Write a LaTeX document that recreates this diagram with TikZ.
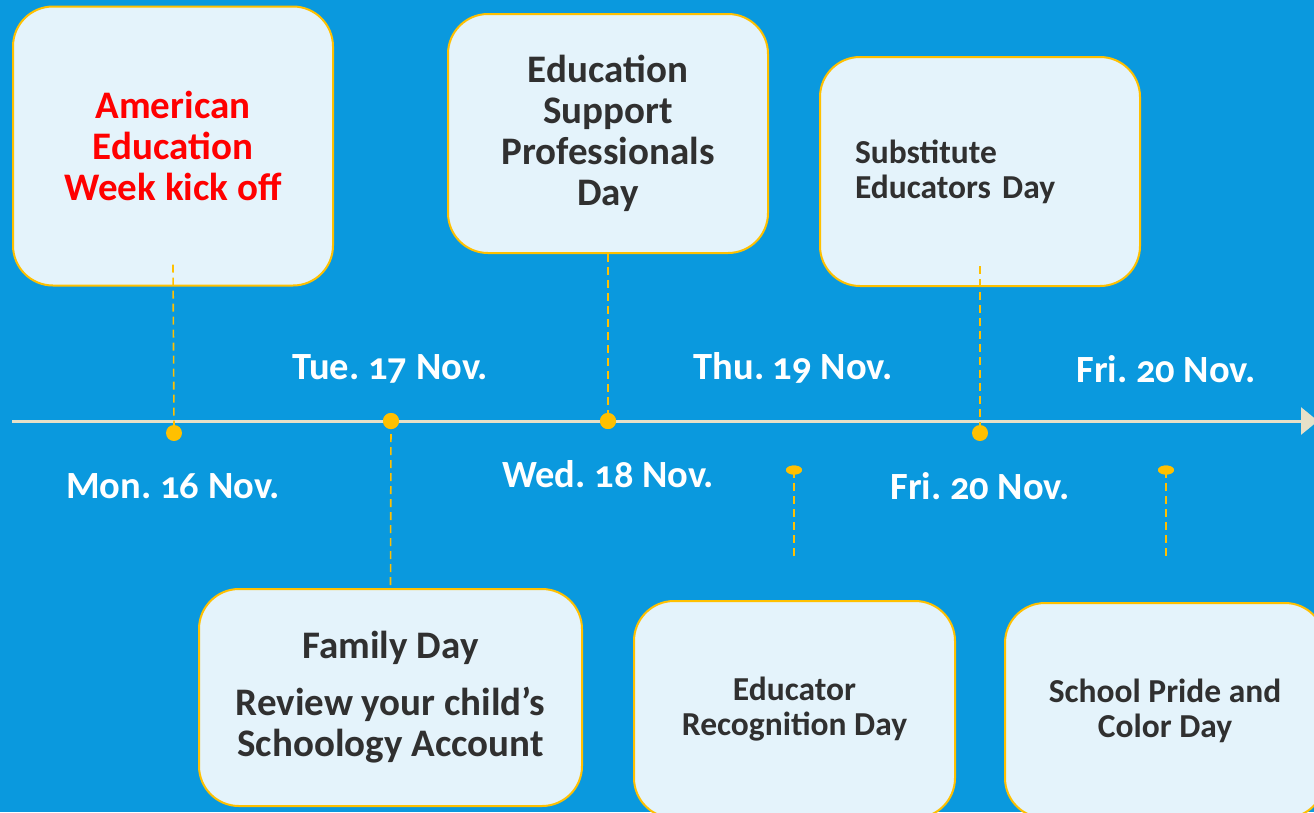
\documentclass[tikz,border=0pt]{standalone}
\usepackage{fontspec}
\setmainfont{Carlito}[Numbers=OldStyle]
\usetikzlibrary{positioning,shapes,arrows.meta}
\definecolor{sky}{RGB}{10,153,222}
\definecolor{paleblue}{RGB}{228,243,251}
\definecolor{gold}{RGB}{255,192,0}
\definecolor{ink}{RGB}{48,48,48}
\definecolor{axis}{RGB}{230,224,200}
\frenchspacing

\begin{document}
\begin{tikzpicture}[x=1pt,y=-1pt]
\tikzstyle{every node}+=[inner sep=0pt]
\tikzstyle{card}=[draw=gold, line width=2pt, fill=paleblue, rounded corners=40pt,
  minimum width=320pt, text=ink, align=center, font=\bfseries\fontsize{39}{41}\selectfont]
\tikzstyle{smallcard}=[card, font=\bfseries\fontsize{33.5}{35}\selectfont]
\tikzstyle{date}=[text=white, font=\bfseries\fontsize{38.5}{41}\selectfont]
\tikzstyle{dot}=[circle, fill=gold, minimum size=16pt]
\tikzstyle{tick}=[ellipse, fill=gold, minimum width=16pt, minimum height=9pt]
\tikzstyle{stem}=[gold, line width=1.6pt, dash pattern=on 8pt off 5pt]
\useasboundingbox (0,0) rectangle (1314,812);
\fill[sky] (0,0) rectangle (1314,812);
\clip (0,0) rectangle (1314,812);
% time axis
\coordinate (start) at (12,421);
\coordinate (stop) at (1318,421);
\draw[axis, line width=3pt, -{Triangle[length=17pt,width=27pt]}] (start) -- (stop);
% event boxes
\node[card, minimum height=279pt, text=red] (kickoff) at (173,146)
  {American\\Education\\Week kick off};
\node[card, minimum height=239pt] (support) at (608,133.5)
  {Education\\Support\\Professionals\\Day};
\node[smallcard, minimum height=229pt, align=left, text width=250pt] (substitute) at (980,171.5)
  {Substitute\\Educators Day};
\node[card, minimum width=383pt, minimum height=217pt] (family) at (390.5,697.5)
  {Family Day\\[16pt]Review your child’s\\Schoology Account};
\node[smallcard, minimum width=321pt, minimum height=217pt] (recognition) at (794.5,709.5)
  {Educator\\Recognition Day};
\node[smallcard, minimum width=320pt, minimum height=215pt] (pride) at (1165,710.5)
  {School Pride and\\Color Day};
% markers on the axis
\node[dot] (mon) at (174,433) {};
\node[dot] (tue) at (391,421) {};
\node[dot] (wed) at (608,421) {};
\node[dot] (fri) at (980,433) {};
\node[tick] (thu) at (794,470) {};
\node[tick] (fri2) at (1166,470) {};
\coordinate (thuend) at (794,556);
\coordinate (fri2end) at (1166,556);
% dashed stems
\draw[stem] ([yshift=22pt]kickoff.south) -- (mon.north);
\draw[stem] (support.south) -- (wed.center);
\draw[stem] (tue.center) -- (family.north);
\draw[stem] ([yshift=21pt]substitute.south) -- (fri.north);
\draw[stem] (thu.center) -- (thuend);
\draw[stem] (fri2.center) -- (fri2end);
\node[dot] at (tue) {};
\node[dot] at (wed) {};
\node[tick] at (thu) {};
\node[tick] at (fri2) {};
% dates
\node[date] (lmon) at (173,486) {Mon. 16 Nov.};
\node[date] (ltue) at (390,369) {Tue. 17 Nov.};
\node[date] (lwed) at (608,474) {Wed. 18 Nov.};
\node[date] (lthu) at (793,368) {Thu. 19 Nov.};
\node[date] (lfri) at (980,486) {Fri. 20 Nov.};
\node[date] (lfri2) at (1166,369) {Fri. 20 Nov.};
\end{tikzpicture}
\end{document}
